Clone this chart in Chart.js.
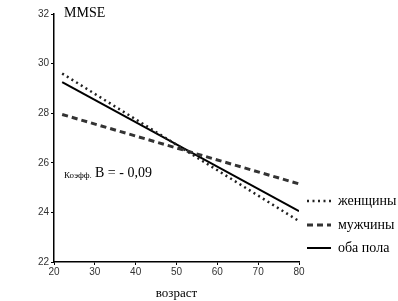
<!DOCTYPE html>
<html>
<head>
<meta charset="utf-8">
<script src="https://cdn.jsdelivr.net/npm/chart.js@4/dist/chart.umd.min.js"></script>
<style>
  html, body { margin: 0; padding: 0; background: #fff; }
  #wrap { width: 398px; height: 301px; }
</style>
</head>
<body>
<div id="wrap"><canvas id="mmseChart" width="398" height="301"></canvas></div>
<script>
// data
var ages = [22, 80];
var women = [29.6, 23.65];
var men = [27.95, 25.15];
var both = [29.25, 24.05];
var seriesNames = ['женщины', 'мужчины', 'оба пола'];
var yTicks = [22, 24, 26, 28, 30, 32];
var xTicks = [20, 30, 40, 50, 60, 70, 80];

function pts(ys) {
    return ages.map(function(x, i) { return { x: x, y: ys[i] }; });
}

var serif = '"Liberation Serif", "DejaVu Serif", serif';
var sans = '"Liberation Sans", Arial, sans-serif';

// legend, title and coefficient text drawn on the canvas
var extras = {
    id: 'extras',
    afterDraw: function(chart) {
        var c = chart.ctx;
        c.save();
        c.fillStyle = '#000';
        c.textBaseline = 'middle';
        c.font = '14px ' + serif;
        c.fillText('MMSE', 64, 13);

        c.font = '9px ' + serif;
        c.fillText('Коэфф.', 64, 176);
        c.font = '14px ' + serif;
        c.fillText('B = - 0,09', 95, 173);

        var rows = [201, 225, 248];
        chart.data.datasets.forEach(function(ds, i) {
            c.beginPath();
            c.strokeStyle = ds.borderColor;
            c.lineWidth = ds.borderWidth;
            c.setLineDash(ds.borderDash || []);
            c.moveTo(307, rows[i]);
            c.lineTo(331, rows[i]);
            c.stroke();
            c.setLineDash([]);
            c.font = '14px ' + serif;
            c.fillText(ds.label, 338, rows[i]);
        });
        c.restore();
    }
};

var ctx = document.getElementById('mmseChart').getContext('2d');
var chart = new Chart(ctx, {
    type: 'line',
    data: {
        datasets: [
            { label: seriesNames[0], data: pts(women), borderColor: '#222', borderWidth: 2.5, borderDash: [2, 3.5] },
            { label: seriesNames[1], data: pts(men), borderColor: '#333', borderWidth: 3, borderDash: [6, 4] },
            { label: seriesNames[2], data: pts(both), borderColor: '#000', borderWidth: 2 }
        ]
    },
    options: {
        responsive: false,
        animation: false,
        elements: { point: { radius: 0 }, line: { tension: 0 } },
        layout: { padding: { top: 14, right: 99, left: 0, bottom: 0 } },
        plugins: { legend: { display: false }, tooltip: { enabled: false } },
        scales: {
            x: {
                type: 'linear',
                min: 20, max: 80,
                afterBuildTicks: function(s) { s.ticks = xTicks.map(function(v) { return { value: v }; }); },
                afterFit: function(s) { s.height = 39; },
                border: { color: '#000', width: 1.5 },
                grid: { drawOnChartArea: false, drawTicks: true, tickLength: 3, color: '#000' },
                ticks: { font: { family: sans, size: 10 }, color: '#333', padding: 1, maxRotation: 0 },
                title: { display: true, text: 'возраст', font: { family: serif, size: 13 }, color: '#000', padding: { top: 4, bottom: 0 } }
            },
            y: {
                min: 22, max: 32,
                afterBuildTicks: function(s) { s.ticks = yTicks.map(function(v) { return { value: v }; }); },
                afterFit: function(s) { s.width = 54; },
                border: { color: '#000', width: 1.5 },
                grid: { drawOnChartArea: false, drawTicks: true, tickLength: 3, color: '#000' },
                ticks: { font: { family: sans, size: 10 }, color: '#333', padding: 2 }
            }
        }
    },
    plugins: [extras]
});
</script>
</body>
</html>
